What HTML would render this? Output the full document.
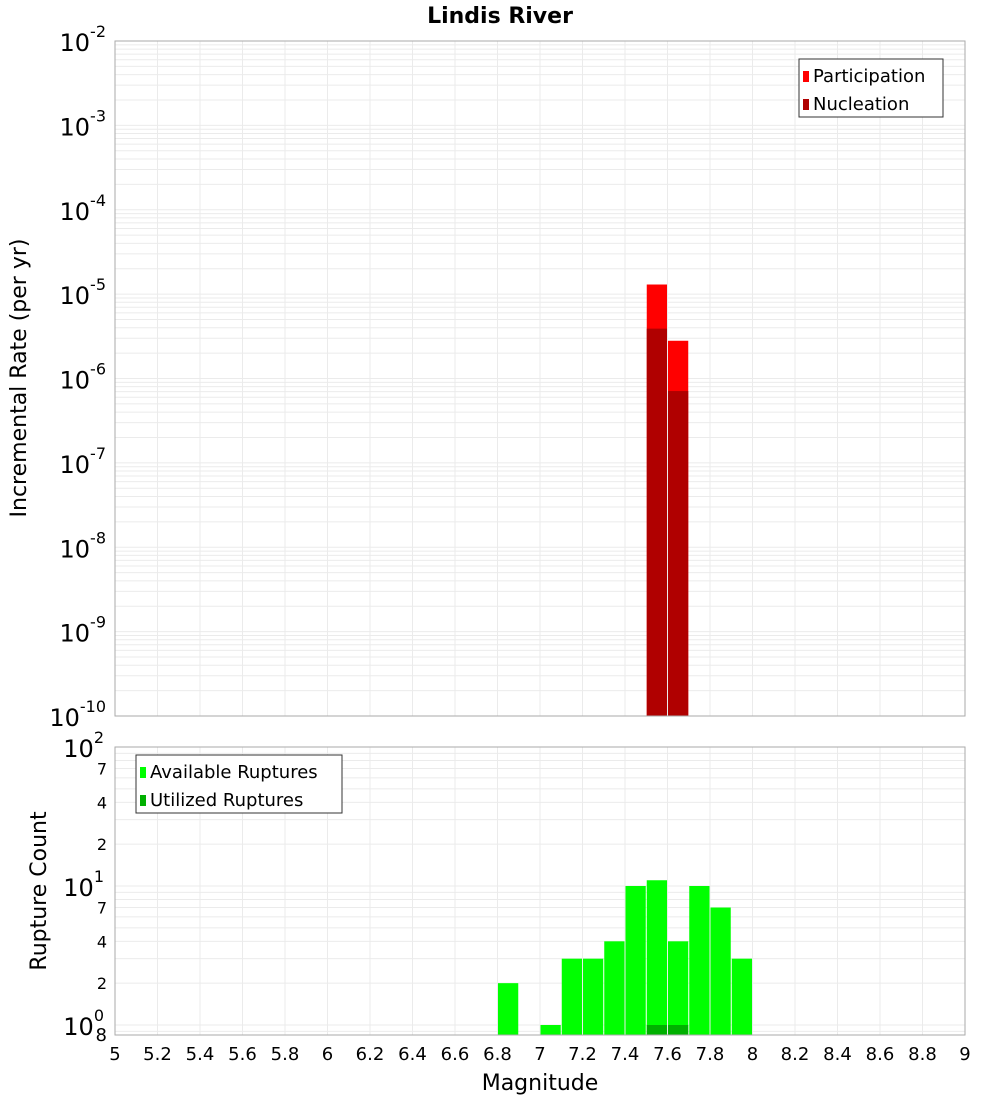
<!DOCTYPE html>
<html><head><meta charset="utf-8"><style>
body{margin:0;background:#fff;font-family:"Liberation Sans","DejaVu Sans",sans-serif}
svg text{font-family:"DejaVu Sans","Liberation Sans",sans-serif}
</style></head><body>
<svg id="c" width="1000" height="1100" xmlns="http://www.w3.org/2000/svg"></svg>
<script>
const magBins=[7.55,7.65];
const participation=[1.3e-5,2.8e-6];
const nucleation=[3.9e-6,7.1e-7];
const availMags=[6.85,7.05,7.15,7.25,7.35,7.45,7.55,7.65,7.75,7.85,7.95];
const availCounts=[2,1,3,3,4,10,11,4,10,7,3];
const utilMags=[7.55,7.65];
const utilCounts=[1,1];
const xTicks=[5,5.2,5.4,5.6,5.8,6,6.2,6.4,6.6,6.8,7,7.2,7.4,7.6,7.8,8,8.2,8.4,8.6,8.8,9];
const topExps=[-2,-3,-4,-5,-6,-7,-8,-9,-10];
const botMinor=[2,4,7];

const svg=document.getElementById('c');
const NS='http://www.w3.org/2000/svg';
function mk(t,a,p){const e=document.createElementNS(NS,t);for(const k in a)e.setAttribute(k,a[k]);(p||svg).appendChild(e);return e;}
const L=115,R=965;
const X=v=>L+(v-5)/4*(R-L);
const T0=41,T1=716;
const Yt=v=>T0+(-2-Math.log10(v))/8*(T1-T0);
const B0=747,B1=1035,bDec=139;
const Yb=v=>1025-Math.log10(v)*bDec;

// titles
let t=mk('text',{x:500,y:23,'text-anchor':'middle','font-size':22,'font-weight':'bold'});
t.textContent='Lindis River';

// top plot grid
let g=mk('g',{});
for(let e=-10;e<-2;e++)for(let m=1;m<10;m++){const y=Yt(m*Math.pow(10,e));mk('line',{x1:L,x2:R,y1:y,y2:y,stroke:'#ebebeb','stroke-width':1},g);}
xTicks.forEach(v=>{mk('line',{x1:X(v),x2:X(v),y1:T0,y2:T1,stroke:'#ebebeb'},g);mk('line',{x1:X(v),x2:X(v),y1:B0,y2:B1,stroke:'#ebebeb'},g);});
let g2=mk('g',{});
for(let e=-1;e<2;e++)for(let m=1;m<10;m++){const y=Yb(m*Math.pow(10,e));if(y>=B0&&y<=B1)mk('line',{x1:L,x2:R,y1:y,y2:y,stroke:'#ebebeb'},g2);}

// top bars
const bw=0.1*(R-L)/4;
magBins.forEach((m,i)=>{let r=mk('rect',{x:X(m)-bw/2+0.5,y:Yt(participation[i]),width:bw-1,height:T1-Yt(participation[i]),fill:'#ff0000'});
});
magBins.forEach((m,i)=>{let r=mk('rect',{x:X(m)-bw/2+0.5,y:Yt(nucleation[i]),width:bw-1,height:T1-Yt(nucleation[i]),fill:'#b00000'});
});
availMags.forEach((m,i)=>{let r=mk('rect',{x:X(m)-bw/2+0.5,y:Yb(availCounts[i]),width:bw-1,height:B1-Yb(availCounts[i]),fill:'#00ff00'});
});
utilMags.forEach((m,i)=>{let r=mk('rect',{x:X(m)-bw/2+0.5,y:Yb(utilCounts[i]),width:bw-1,height:B1-Yb(utilCounts[i]),fill:'#00b000'});
});

// frames
mk('rect',{x:L,y:T0,width:R-L,height:T1-T0,fill:'none',stroke:'#aaa'});
mk('rect',{x:L,y:B0,width:R-L,height:B1-B0,fill:'none',stroke:'#aaa'});

// top y ticks
topExps.forEach(e=>{const y=Yt(Math.pow(10,e));
let tt=mk('text',{x:106,y:y+10,'text-anchor':'end','font-size':24});

tt.textContent='10';let s=mk('tspan',{dy:-14,'font-size':16},tt);s.textContent=String(e);});
// bottom y ticks
[0,1,2].forEach(e=>{const y=Yb(Math.pow(10,e));
let tt=mk('text',{x:104,y:y+10,'text-anchor':'end','font-size':24});

tt.textContent='10';let s=mk('tspan',{dy:-14,'font-size':16},tt);s.textContent=String(e);});
[0,1].forEach(e=>botMinor.forEach(m=>{const y=Yb(m*Math.pow(10,e));
let tt=mk('text',{x:107,y:y+6,'text-anchor':'end','font-size':16});
tt.textContent=String(m);}));
let e8=mk('text',{x:107,y:1041,'text-anchor':'end','font-size':18});e8.textContent='8';

// x ticks
xTicks.forEach(v=>{let tt=mk('text',{x:X(v),y:1060,'text-anchor':'middle','font-size':18});
tt.textContent=String(v);});

// axis titles
let xa=mk('text',{x:540,y:1090,'text-anchor':'middle','font-size':22});xa.textContent='Magnitude';
let ya=mk('text',{x:0,y:0,'text-anchor':'middle','font-size':22,transform:'translate(26,378) rotate(-90)'});ya.textContent='Incremental Rate (per yr)';
let yb=mk('text',{x:0,y:0,'text-anchor':'middle','font-size':22,transform:'translate(46,891) rotate(-90)'});yb.textContent='Rupture Count';

// legends
function legend(x,y,w,items,name){let lg=mk('g',{});
mk('rect',{x:x,y:y,width:w,height:58,fill:'#fff',stroke:'#333'},lg);
items.forEach((it,i)=>{mk('rect',{x:x+4,y:y+12+i*28,width:6,height:11,fill:it[1]},lg);
let tt=mk('text',{x:x+14,y:y+23+i*28,'font-size':18},lg);tt.textContent=it[0];});}
legend(799,59,144,[['Participation','#ff0000'],['Nucleation','#b00000']],'top-legend');
legend(136,755,206,[['Available Ruptures','#00ff00'],['Utilized Ruptures','#00b000']],'bottom-legend');
</script>
</body></html>
